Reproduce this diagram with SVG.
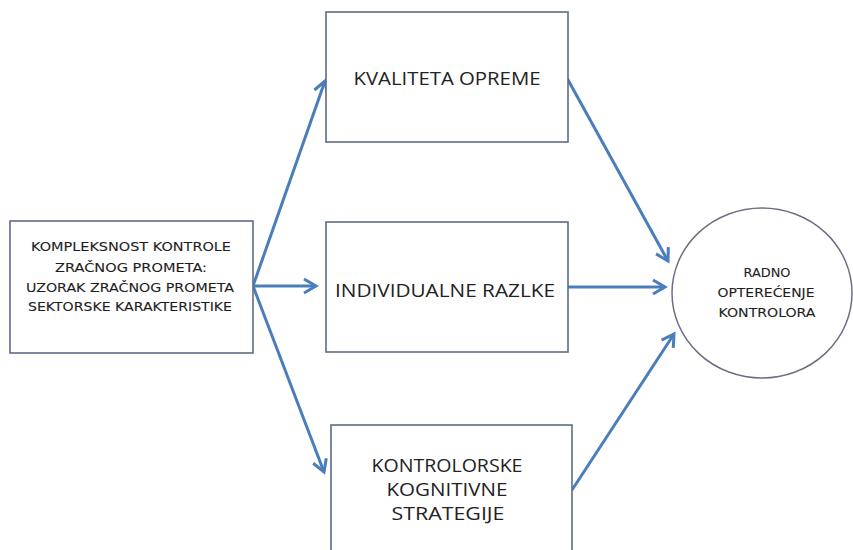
<svg xmlns="http://www.w3.org/2000/svg" width="853" height="550" viewBox="0 0 853 550">
<style>
.box{fill:#fff;stroke:#5e6c84;stroke-width:1.6}
.circ{fill:#fff;stroke:#6b6f80;stroke-width:1.5}
.conn{stroke:#4a7ebb;stroke-width:3;fill:none;marker-end:url(#arr)}
.sm{font-family:"DejaVu Sans",Verdana,sans-serif;font-size:12px;fill:#1e1e1e;stroke:#1e1e1e;stroke-width:0.1;text-anchor:middle}
.lg{font-family:"Open Sans","Liberation Sans",sans-serif;font-size:19px;fill:#222;text-anchor:middle}
</style>
<defs>
<marker id="arr" markerUnits="userSpaceOnUse" markerWidth="20" markerHeight="20" refX="0" refY="0" viewBox="-15 -10 18 20" orient="auto">
<path d="M-12,-7 L0,0 L-12,7" fill="none" stroke="#4a7ebb" stroke-width="3" stroke-linejoin="miter"/>
</marker>
</defs>
<rect width="853" height="550" fill="#fff"/>
<g id="connectors">
<line class="conn" x1="253" y1="286" x2="325" y2="81"/>
<line class="conn" x1="253" y1="286" x2="316" y2="286"/>
<line class="conn" x1="253" y1="286" x2="324" y2="472"/>
<line class="conn" x1="567" y1="78" x2="668" y2="261"/>
<line class="conn" x1="568" y1="287" x2="665" y2="287"/>
<line class="conn" x1="572" y1="490" x2="674" y2="334"/>
</g>
<g id="node-kompleksnost">
<rect class="box" x="10" y="221" width="243" height="132"/>
<text class="sm" x="131" y="251" textLength="200" lengthAdjust="spacingAndGlyphs">KOMPLEKSNOST KONTROLE</text>
<text class="sm" x="131" y="272" textLength="152" lengthAdjust="spacingAndGlyphs">ZRAČNOG PROMETA:</text>
<text class="sm" x="130" y="292" textLength="208" lengthAdjust="spacingAndGlyphs">UZORAK ZRAČNOG PROMETA</text>
<text class="sm" x="130" y="311" textLength="204" lengthAdjust="spacingAndGlyphs">SEKTORSKE  KARAKTERISTIKE</text>
</g>
<g id="node-kvaliteta">
<rect class="box" x="326" y="12" width="242" height="130"/>
<text class="lg" x="447" y="85" textLength="187" lengthAdjust="spacingAndGlyphs">KVALITETA OPREME</text>
</g>
<g id="node-individualne">
<rect class="box" x="326" y="222" width="242" height="130"/>
<text class="lg" x="445" y="297" textLength="220" lengthAdjust="spacingAndGlyphs">INDIVIDUALNE RAZLKE</text>
</g>
<g id="node-kontrolorske">
<rect class="box" x="331" y="425" width="241" height="140"/>
<text class="lg" x="447" y="472" textLength="151" lengthAdjust="spacingAndGlyphs">KONTROLORSKE</text>
<text class="lg" x="447" y="496" textLength="121" lengthAdjust="spacingAndGlyphs">KOGNITIVNE</text>
<text class="lg" x="448" y="520" textLength="113" lengthAdjust="spacingAndGlyphs">STRATEGIJE</text>
</g>
<g id="node-radno">
<ellipse class="circ" cx="762" cy="293" rx="90" ry="85"/>
<text class="sm" x="767" y="277" textLength="47" lengthAdjust="spacingAndGlyphs">RADNO</text>
<text class="sm" x="766" y="297" textLength="97" lengthAdjust="spacingAndGlyphs">OPTEREĆENJE</text>
<text class="sm" x="767" y="317" textLength="97" lengthAdjust="spacingAndGlyphs">KONTROLORA</text>
</g>
</svg>
